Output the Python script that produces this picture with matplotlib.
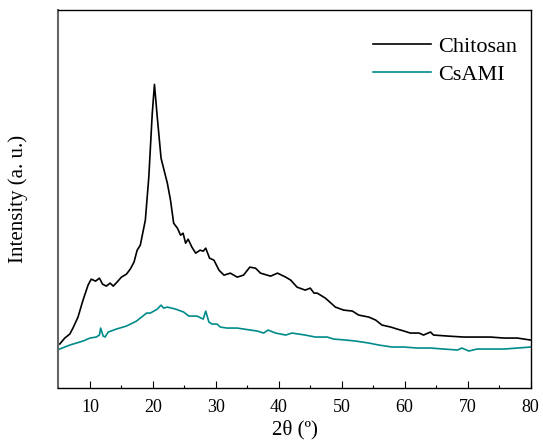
import numpy as np
import matplotlib
matplotlib.use("Agg")
import matplotlib.pyplot as plt
from matplotlib.ticker import MultipleLocator, NullLocator

# XRD patterns (2theta in degrees, intensity in arbitrary units)
chitosan_2theta = [
    5.2, 6.0, 6.8, 7.3, 8.1, 8.9, 9.7, 10.2, 10.9, 11.5, 12.0, 12.6, 13.2,
    13.7, 14.3, 15.0, 15.8, 16.4, 17.0, 17.5, 18.0, 18.8, 19.35, 19.9, 20.25,
    20.7, 21.3, 22.3, 22.8, 23.3, 23.9, 24.4, 24.8, 25.2, 25.6, 26.2, 26.8,
    27.5, 28.0, 28.4, 29.0, 29.7, 30.5, 31.3, 32.3, 33.4, 34.4, 35.4, 36.3,
    37.1, 38.7, 39.8, 41.1, 41.9, 42.9, 44.2, 45.0, 45.6, 46.1, 47.4, 49.0,
    50.3, 51.7, 52.7, 54.3, 55.4, 56.4, 57.8, 58.8, 59.9, 60.9, 62.3, 63.0,
    64.1, 64.6, 66.8, 69.4, 71.5, 73.6, 75.8, 77.9, 80.0,
]
chitosan_int = [
    44, 50, 54, 60, 71, 88, 103, 109, 107, 110, 104, 102, 105,
    102, 106, 111, 114, 119, 126, 138, 143, 168, 211, 275, 304,
    271, 230, 205, 188, 165, 160, 153, 155, 145, 149, 141, 135,
    138, 137, 140, 130, 128, 118, 113, 115, 111, 113, 121, 120,
    115, 112, 115, 111, 108, 101, 98, 100, 95, 95, 90, 81,
    78, 77, 73, 71, 68, 63, 61, 59, 57, 55, 55, 53,
    56, 53, 52, 51, 51, 51, 50, 50, 48,
]

csami_2theta = [
    5.2, 6.8, 8.9, 10.0, 11.0, 11.5, 11.7, 12.1, 12.4, 12.9, 14.2, 15.8,
    17.4, 19.0, 19.6, 20.7, 21.3, 21.7, 22.3, 23.6, 24.9, 25.7, 27.0, 28.0,
    28.4, 28.9, 29.4, 30.2, 30.7, 31.8, 33.4, 35.5, 36.6, 37.6, 38.3, 39.5,
    41.1, 42.1, 44.2, 45.8, 47.7, 48.7, 50.6, 52.2, 54.3, 55.9, 58.0, 59.9,
    62.0, 64.1, 66.2, 68.4, 69.1, 70.2, 71.5, 73.6, 75.8, 77.9, 80.0,
]
csami_int = [
    39, 43, 47, 50, 51, 53, 60, 52, 51, 56, 59, 62,
    67, 75, 75, 79, 83, 80, 81, 79, 76, 72, 72, 69,
    77, 66, 64, 64, 61, 60, 60, 58, 57, 55, 58, 55,
    53, 55, 53, 51, 51, 49, 48, 47, 45, 43, 41, 41,
    40, 40, 39, 38, 40, 37, 39, 39, 39, 40, 41,
]

plt.rcParams['font.family'] = ['Liberation Serif', 'DejaVu Serif']

fig = plt.figure(figsize=(5.43, 4.43), dpi=100)
ax = fig.add_axes([0.1077, 0.1242, 0.8693, 0.8521])

ax.plot(chitosan_2theta, chitosan_int, color='black', lw=1.2, label='Chitosan')
ax.plot(csami_2theta, csami_int, color='#008b8b', lw=1.2, label='CsAMI')

ax.set_xlim(5, 80)
ax.set_ylim(0, 378)
ax.xaxis.set_major_locator(MultipleLocator(10))
ax.xaxis.set_minor_locator(MultipleLocator(5))
ax.yaxis.set_major_locator(NullLocator())
ax.tick_params(axis='x', which='major', direction='in', length=5, width=0.8,
               labelsize=13, pad=8)
ax.tick_params(axis='x', which='minor', direction='in', length=2.5, width=0.8)

for side in ['top', 'right', 'bottom']:
    ax.spines[side].set_linewidth(1.0)
ax.spines['left'].set_color('#666666')
ax.spines['left'].set_linewidth(1.5)

ax.set_xlabel('2θ (º)', fontsize=15, labelpad=3)
ax.set_ylabel('Intensity (a. u.)', fontsize=15, labelpad=22)

ax.legend(loc='upper right', bbox_to_anchor=(0.99, 0.955), borderaxespad=0,
          frameon=False, fontsize=16, handlelength=2.6, handletextpad=0.3,
          labelspacing=0.35)

fig.savefig('out.png', dpi=100)
